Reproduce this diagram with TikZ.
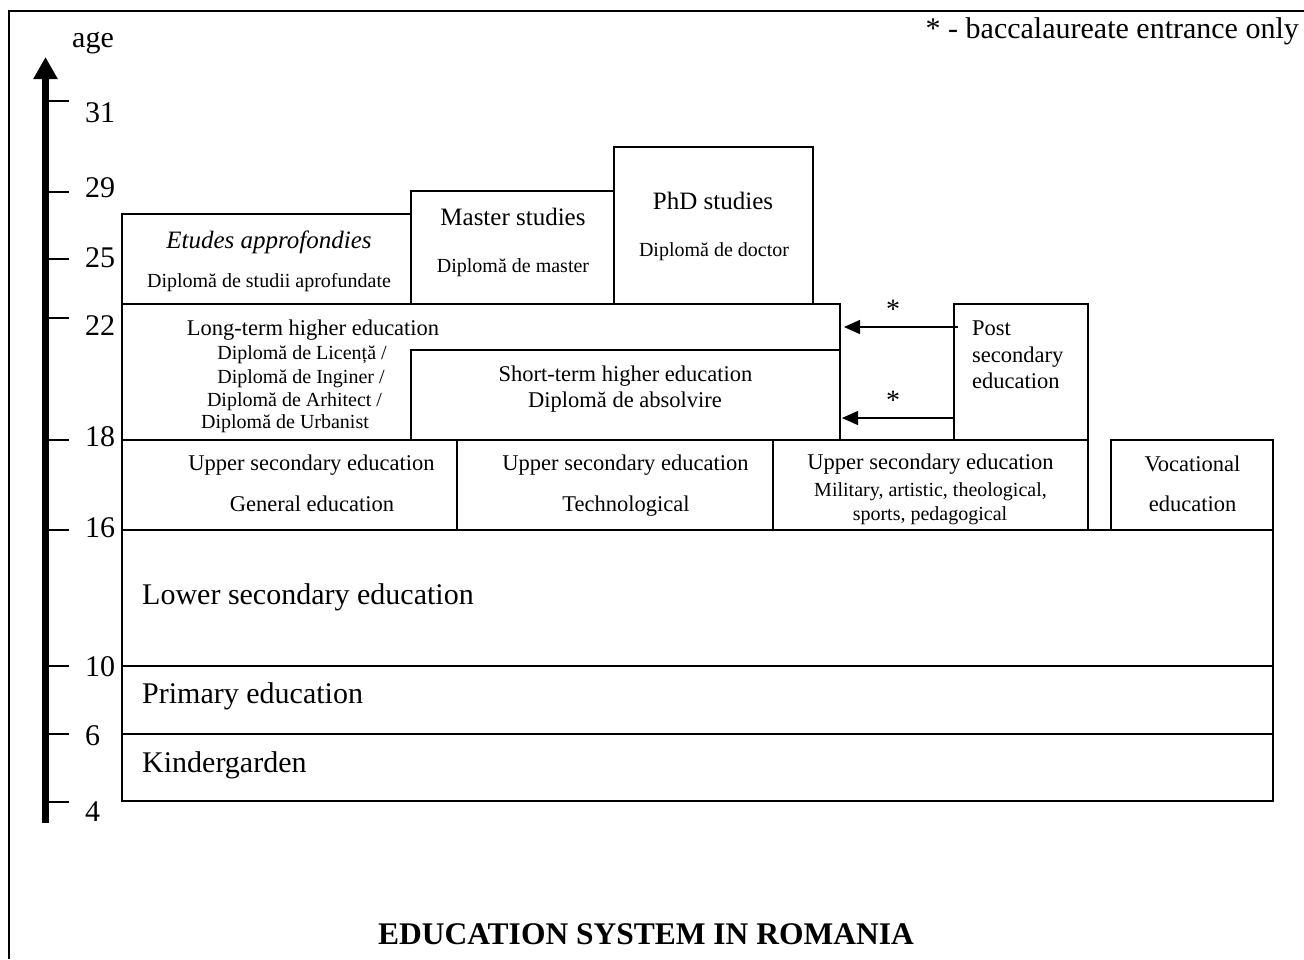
\documentclass[tikz,border=0pt]{standalone}
\usepackage{fontspec}
\setmainfont{Liberation Serif}
\usetikzlibrary{arrows.meta,fit}
\begin{document}
\begin{tikzpicture}[x=1pt,y=-1pt,
  box/.style={draw,line width=1.6pt,inner sep=0pt,outer sep=0pt},
  txt/.style={inner sep=0pt,anchor=base},
  ltxt/.style={inner sep=0pt,anchor=base west},
  fbig/.style={font=\fontsize{30}{34}\selectfont},
  fttl/.style={font=\fontsize{25}{29}\selectfont},
  fmed/.style={font=\fontsize{22.5}{26}\selectfont},
  fsub/.style={font=\fontsize{20}{23}\selectfont},
  tick/.style={line width=1.8pt},
  arr/.style={line width=1.4pt,-{Triangle[length=16pt,width=14pt]}}]
\useasboundingbox (0,0) rectangle (1304,959);
% outer frame
\draw[line width=2pt] (8.5,959) -- (8.5,10.5) -- (1304,10.5);
% age axis
\coordinate (axb) at (45.5,823);
\coordinate (axt) at (45.5,57);
\draw[line width=7pt,-{Triangle[length=22pt,width=23pt]}] (axb) -- (axt);
\node[ltxt,fbig] (age) at (72,47) {age};
\foreach \ty/\by/\lab [count=\i] in {101/122/31,192/197/29,259/267/25,318/335/22,440/446/18,530/537/16,666/676/10,734/745/6,802/821/4}{
  \draw[tick] (49,\ty) -- (69,\ty);
  \node[ltxt,fbig] (lab\i) at (85,\by) {\lab};
}
% legend
\node[inner sep=0pt,anchor=base east,fbig] (legend) at (1299,38) {* - baccalaureate entrance only};
% boxes
\node[box,fit={(122,214) (411,304)}] (etudes) {};
\node[box,fit={(411,191) (614,304)}] (master) {};
\node[box,fit={(614,147) (813,304)}] (phd) {};
\node[box,fit={(122,304) (840,440)}] (long) {};
\node[box,fit={(411,350) (840,440)}] (short) {};
\node[box,fit={(954,304) (1088,440)}] (post) {};
\node[box,fit={(122,440) (457,530)}] (up1) {};
\node[box,fit={(457,440) (773,530)}] (up2) {};
\node[box,fit={(773,440) (1088,530)}] (up3) {};
\node[box,fit={(1111,440) (1273,530)}] (voc) {};
\node[box,fit={(122,530) (1273,666)}] (lower) {};
\node[box,fit={(122,666) (1273,734)}] (primary) {};
\node[box,fit={(122,734) (1273,801)}] (kinder) {};
% texts
\node[txt,fttl] (t1) at (269,248) {\itshape Etudes approfondies};
\node[txt,fsub] (t2) at (269,287) {Diplomă de studii aprofundate};
\node[txt,fttl] (t3) at (513,225) {Master studies};
\node[txt,fsub] (t4) at (513,272) {Diplomă de master};
\node[txt,fttl] (t5) at (713,209) {PhD studies};
\node[txt,fsub] (t6) at (714,256) {Diplomă de doctor};
\node[txt,fmed] (t7) at (313,335) {Long-term higher education};
\node[txt,fsub] (t8) at (302,359) {Diplomă de Licență /};
\node[txt,fsub] (t9) at (301,383) {Diplomă de Inginer /};
\node[txt,fsub] (t10) at (294.5,406) {Diplomă de Arhitect /};
\node[txt,fsub] (t11) at (285,428) {Diplomă de Urbanist};
\node[txt,fmed] (t12) at (625.5,381) {Short-term higher education};
\node[txt,fmed] (t13) at (625,407) {Diplomă de absolvire};
\node[ltxt,fmed] (t14) at (972,335) {Post};
\node[ltxt,fmed] (t15) at (972,362) {secondary};
\node[ltxt,fmed] (t16) at (972,388) {education};
\node[txt,fmed] (t17) at (311.5,470) {Upper secondary education};
\node[txt,fmed] (t18) at (312,511) {General education};
\node[txt,fmed] (t19) at (625.5,470) {Upper secondary education};
\node[txt,fmed] (t20) at (626,511) {Technological};
\node[txt,fmed] (t21) at (930.5,469) {Upper secondary education};
\node[txt,fsub] (t22) at (930.5,496) {Military, artistic, theological,};
\node[txt,fsub] (t23) at (930,520) {sports, pedagogical};
\node[txt,fmed] (t24) at (1192.5,471) {Vocational};
\node[txt,fmed] (t25) at (1192.5,511) {education};
\node[ltxt,fbig] (t26) at (142,604) {Lower secondary education};
\node[ltxt,fbig] (t27) at (142,703) {Primary education};
\node[ltxt,fbig] (t28) at (142,772) {Kindergarden};
\node[txt,font=\fontsize{31.5}{36}\selectfont\bfseries] (title) at (646,944) {EDUCATION SYSTEM IN ROMANIA};
% arrows from post secondary
\coordinate (r1) at (0,327);
\coordinate (r2) at (0,418);
\draw[arr,shorten >=4pt] ([xshift=4pt]post.west |- r1) -- (long.east |- r1);
\draw[arr,shorten >=2pt] (post.west |- r2) -- (short.east |- r2);
\node[txt,font=\fontsize{28}{32}\selectfont] (s1) at (893,318) {*};
\node[txt,font=\fontsize{28}{32}\selectfont] (s2) at (893,409) {*};
\end{tikzpicture}
\end{document}
